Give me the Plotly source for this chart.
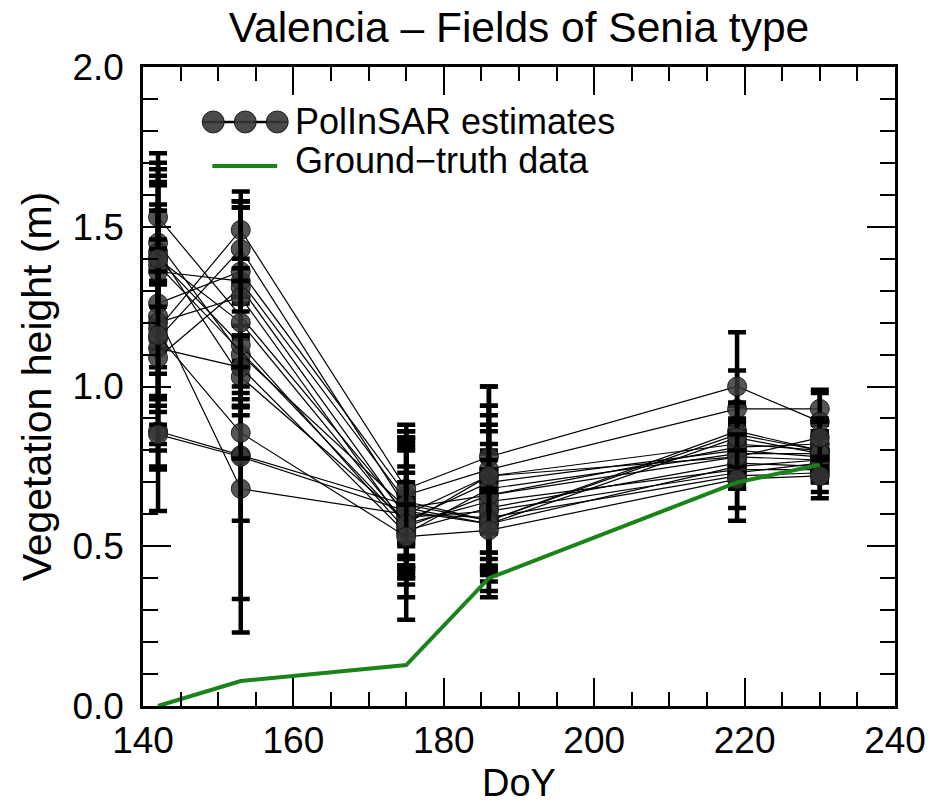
import plotly.graph_objects as go

# ---------------- data ----------------
doy = [142, 153, 175, 186, 219, 230]

# PolInSAR height estimates (m) per field, None = no acquisition
field_01 = [1.53, None, 0.60, 0.72, 0.82, 0.80]
field_02 = [1.45, 1.10, 0.62, 0.66, 0.78, 0.77]
field_03 = [1.42, 1.03, 0.58, 0.70, 0.80, 0.78]
field_04 = [1.40, 1.13, 0.55, 0.62, 0.76, 0.75]
field_05 = [1.38, None, 0.57, 0.64, 0.74, 0.74]
field_06 = [1.36, 1.33, 0.64, 0.58, 0.86, 0.80]
field_07 = [1.26, 1.36, 0.66, 0.74, 0.93, 0.93]
field_08 = [1.22, 0.68, 0.60, 0.59, 0.72, 0.73]
field_09 = [1.18, 1.49, 0.68, 0.78, 1.00, 0.89]
field_10 = [1.15, 1.43, 0.62, 0.57, 0.75, 0.77]
field_11 = [1.12, 1.06, 0.54, 0.68, 0.79, 0.79]
field_12 = [1.09, 1.31, 0.59, 0.61, 0.73, 0.76]
field_13 = [1.20, 1.28, 0.56, 0.66, 0.81, 0.82]
field_14 = [0.86, 0.785, 0.63, 0.58, 0.85, 0.80]
field_15 = [0.85, 0.78, 0.61, 0.57, 0.84, 0.79]
field_16 = [1.40, 1.20, 0.57, 0.72, 0.78, 0.84]
field_17 = [1.16, 0.855, 0.53, 0.55, 0.71, 0.72]

# standard deviations (error bars, m)
err_01 = [0.20, None, 0.22, 0.28, 0.06, 0.05]
err_02 = [0.12, 0.16, 0.18, 0.25, 0.08, 0.04]
err_03 = [0.22, 0.12, 0.15, 0.10, 0.05, 0.06]
err_04 = [0.28, 0.06, 0.28, 0.20, 0.07, 0.05]
err_05 = [0.05, None, 0.10, 0.30, 0.06, 0.04]
err_06 = [0.30, 0.25, 0.24, 0.12, 0.08, 0.06]
err_07 = [0.06, 0.20, 0.20, 0.20, 0.12, 0.05]
err_08 = [0.48, 0.10, 0.05, 0.20, 0.14, 0.08]
err_09 = [0.14, 0.12, 0.18, 0.22, 0.17, 0.10]
err_10 = [0.40, 0.15, 0.22, 0.15, 0.07, 0.05]
err_11 = [0.51, 0.10, 0.10, 0.20, 0.06, 0.06]
err_12 = [0.12, 0.25, 0.25, 0.25, 0.05, 0.05]
err_13 = [0.26, 0.30, 0.14, 0.08, 0.08, 0.07]
err_14 = [0.06, 0.45, 0.12, 0.10, 0.10, 0.06]
err_15 = [0.03, 0.55, 0.20, 0.14, 0.06, 0.05]
err_16 = [0.15, 0.20, 0.06, 0.05, 0.07, 0.06]
err_17 = [0.20, 0.08, 0.10, 0.12, 0.09, 0.05]

# ground-truth vegetation height
gt_doy = [142, 153, 175, 186, 219, 230]
gt_height = [0.0, 0.078, 0.128, 0.40, 0.70, 0.755]

fields = [field_01, field_02, field_03, field_04, field_05, field_06, field_07,
          field_08, field_09, field_10, field_11, field_12, field_13, field_14,
          field_15, field_16, field_17]
errs = [err_01, err_02, err_03, err_04, err_05, err_06, err_07, err_08, err_09,
        err_10, err_11, err_12, err_13, err_14, err_15, err_16, err_17]

FONT = "Liberation Sans, Arial, sans-serif"

fig = go.Figure()
for h, e in zip(fields, errs):
    fig.add_trace(go.Scatter(
        x=doy, y=h, mode="lines+markers", connectgaps=True,
        line=dict(color="black", width=1.2),
        marker=dict(symbol="circle", size=19, color="rgba(55,55,55,0.85)",
                    line=dict(color="rgba(20,20,20,0.9)", width=1)),
        error_y=dict(type="data", array=e, visible=True, color="black",
                     thickness=4.5, width=9),
        showlegend=False, hoverinfo="x+y"))

fig.add_trace(go.Scatter(
    x=gt_doy, y=gt_height, mode="lines",
    line=dict(color="#1a841a", width=4),
    showlegend=False))

# ---------------- custom legend ----------------
shapes = []
shapes.append(dict(type="line", xref="paper", yref="paper",
                   x0=0.0788, x1=0.1918, y0=0.914, y1=0.914,
                   line=dict(color="black", width=2.5)))
for cx in [0.0934, 0.1360, 0.1785]:
    shapes.append(dict(type="circle", xref="paper", yref="paper",
                       xsizemode="pixel", ysizemode="pixel",
                       xanchor=cx, yanchor=0.914,
                       x0=-11, x1=11, y0=-11, y1=11,
                       fillcolor="rgba(55,55,55,0.9)",
                       line=dict(color="rgba(20,20,20,0.9)", width=1)))
shapes.append(dict(type="line", xref="paper", yref="paper",
                   x0=0.0922, x1=0.1785, y0=0.845, y1=0.845,
                   line=dict(color="#1a841a", width=4)))

annotations = [
    dict(text="PolInSAR estimates", xref="paper", yref="paper",
         x=0.199, y=0.914, xanchor="left", yanchor="middle",
         showarrow=False, font=dict(family=FONT, size=36, color="black")),
    dict(text="Ground\u2212truth data", xref="paper", yref="paper",
         x=0.199, y=0.853, xanchor="left", yanchor="middle",
         showarrow=False, font=dict(family=FONT, size=36, color="black")),
]

axis_common = dict(
    showline=True, linecolor="black", linewidth=2.5, mirror="allticks",
    ticks="inside", tickcolor="black", tickwidth=2, ticklen=28,
    showgrid=False, zeroline=False, automargin=False,
    tickfont=dict(family=FONT, size=37, color="black"),
)

fig.update_layout(
    width=930, height=804,
    paper_bgcolor="white", plot_bgcolor="white",
    margin=dict(l=143, r=35, t=67, b=98),
    title=dict(text="Valencia \u2013 Fields of Senia type",
               font=dict(family=FONT, size=42.5, color="black"),
               x=0.5, xref="paper", xanchor="center",
               y=0.966, yref="container", yanchor="middle"),
    xaxis=dict(range=[140, 240], tick0=140, dtick=20,
               minor=dict(dtick=5, ticklen=14, tickwidth=2, ticks="inside",
                          tickcolor="black", showgrid=False),
               title=dict(text="DoY", font=dict(family=FONT, size=38, color="black"),
                          standoff=18),
               ticklabelstandoff=0,
               **axis_common),
    yaxis=dict(range=[0, 2], tick0=0, dtick=0.5, tickformat=".1f",
               minor=dict(dtick=0.1, ticklen=15, tickwidth=2, ticks="inside",
                          tickcolor="black", showgrid=False),
               title=dict(text="Vegetation height (m)",
                          font=dict(family=FONT, size=41, color="black"),
                          standoff=9),
               ticklabelstandoff=9,
               **axis_common),
    shapes=shapes, annotations=annotations,
    showlegend=False,
)

fig.write_html("out.html")
